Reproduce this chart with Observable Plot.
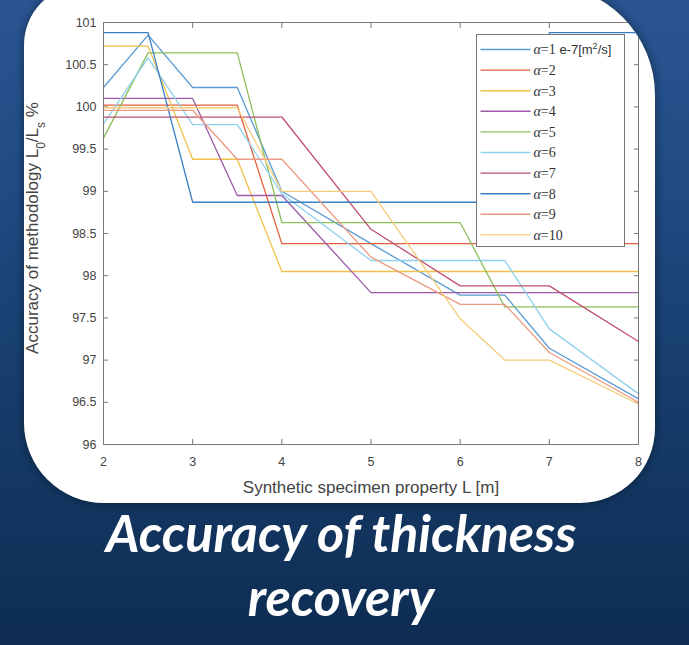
<!DOCTYPE html>
<html>
<head>
<meta charset="utf-8">
<script src="https://cdn.jsdelivr.net/npm/d3@7"></script>
<script src="https://cdn.jsdelivr.net/npm/@observablehq/plot@0.6"></script>
<style>
  html, body { margin: 0; padding: 0; }
  #page {
    position: relative; width: 689px; height: 645px; overflow: hidden;
    background: linear-gradient(180deg, #2a5592 0%, #1f4a82 30%, #153b68 65%, #0e2c52 100%);
  }
  #card {
    position: absolute; left: 24px; top: -15px; width: 631px; height: 518px;
    background: #ffffff; overflow: hidden;
    border-radius: 60px 110px 75px 80px;
    box-shadow: 0 0 10px rgba(0, 0, 0, 0.45);
  }
  #chart { position: absolute; left: -24px; top: 15px; width: 689px; height: 500px; }
  #chart svg { max-width: none !important; }
  #title {
    position: absolute; left: 0; top: 500px; width: 682px; text-align: center;
    font-family: Lato, "Open Sans", sans-serif; font-weight: 700; font-style: italic;
    font-size: 52px; line-height: 64px; color: #ffffff;
  }
</style>
</head>
<body>
<div id="page">
  <div id="card"><div id="chart"></div></div>
  <div id="title">Accuracy of thickness<br>recovery</div>
</div>
<script>
// Specimen property L [m] at which each accuracy curve was sampled
const lengths = [2, 2.5, 3, 3.5, 4, 5, 6, 6.5, 7, 8];

// Accuracy of methodology L0/Ls (%) for each diffusivity α
const alpha1  = [100.23, 100.85, 100.23, 100.23, 99.00, 98.38, 97.77, 97.77, 97.14, 96.54];
const alpha2  = [100.02, 100.02, 100.02, 100.02, 98.38, 98.38, 98.38, 98.38, 98.38, 98.38];
const alpha3  = [100.72, 100.72, 99.38, 99.38, 98.05, 98.05, 98.05, 98.05, 98.05, 98.05];
const alpha4  = [100.10, 100.10, 100.10, 98.95, 98.95, 97.80, 97.80, 97.80, 97.80, 97.80];
const alpha5  = [99.63, 100.64, 100.64, 100.64, 98.63, 98.63, 98.63, 97.63, 97.63, 97.63];
const alpha6  = [99.80, 100.58, 99.79, 99.79, 98.97, 98.18, 98.18, 98.18, 97.37, 96.60];
const alpha7  = [99.88, 99.88, 99.88, 99.88, 99.88, 98.55, 97.88, 97.88, 97.88, 97.22];
const alpha8  = [100.88, 100.88, 98.87, 98.87, 98.87, 98.87, 98.87, 98.87, 100.88, 100.88];
const alpha9  = [99.96, 99.96, 99.96, 99.38, 99.38, 98.22, 97.66, 97.66, 97.09, 96.50];
const alpha10 = [99.99, 99.99, 99.99, 99.99, 99.00, 99.00, 97.49, 97.00, 97.00, 96.48];

const seriesNames = ["α=1", "α=2", "α=3", "α=4", "α=5", "α=6", "α=7", "α=8", "α=9", "α=10"];
const seriesColors = ["#5b9bd5", "#e0603a", "#f0c048", "#9c5aa8", "#8cbf5a",
                      "#8ed0ee", "#c0506e", "#3a7fc4", "#ec9a82", "#f6cc7a"];

const xTicks = [2, 3, 4, 5, 6, 7, 8];
const yTicks = [96, 96.5, 97, 97.5, 98, 98.5, 99, 99.5, 100, 100.5, 101];

const xLabel = "Synthetic specimen property L [m]";

const allSeries = [alpha1, alpha2, alpha3, alpha4, alpha5, alpha6, alpha7, alpha8, alpha9, alpha10];
const rows = allSeries.flatMap((vals, i) =>
  vals.map((v, j) => ({L: lengths[j], acc: v, name: seriesNames[i]})));

const plot = Plot.plot({
  width: 689,
  height: 500,
  marginLeft: 103,
  marginRight: 51,
  marginTop: 22,
  marginBottom: 56,
  style: {background: "transparent", fontFamily: "'Liberation Sans', Arial, sans-serif",
          fontSize: "12.5px", color: "#444", maxWidth: "none"},
  x: {domain: [2, 8]},
  y: {domain: [96, 101]},
  color: {domain: seriesNames, range: seriesColors},
  marks: [
    Plot.axisX(xTicks, {anchor: "bottom", tickSize: -5, tickPadding: 18, label: null,
                        tickFormat: d => String(d), stroke: "#777"}),
    Plot.axisX(xTicks, {anchor: "top", tickSize: -5, label: null, tickFormat: () => "", stroke: "#777"}),
    Plot.axisY(yTicks, {anchor: "left", tickSize: -5, tickPadding: 12, label: null,
                        tickFormat: d => String(d), stroke: "#777"}),
    Plot.axisY(yTicks, {anchor: "right", tickSize: -5, label: null, tickFormat: () => "", stroke: "#777"}),
    Plot.line(rows, {x: "L", y: "acc", z: "name", stroke: "name", strokeWidth: 1.3}),
    Plot.frame({stroke: "#777"})
  ]
});

const svg = d3.select(plot);
const color = plot.scale("color");

// x-axis title
svg.append("text")
  .attr("x", 371).attr("y", 493)
  .attr("text-anchor", "middle")
  .attr("font-size", 17).attr("fill", "#444")
  .text(xLabel);

// y-axis title with subscripts
const yl = svg.append("text")
  .attr("transform", "translate(38,228) rotate(-90)")
  .attr("text-anchor", "middle")
  .attr("font-size", 17).attr("fill", "#444");
yl.append("tspan").text("Accuracy of methodology L");
yl.append("tspan").attr("baseline-shift", "sub").attr("font-size", 12).text("0");
yl.append("tspan").text("/L");
yl.append("tspan").attr("baseline-shift", "sub").attr("font-size", 12).text("s");
yl.append("tspan").text(" %");

// legend box
const lg = svg.append("g").attr("transform", "translate(476.5,34.5)");
lg.append("rect").attr("width", 148).attr("height", 212)
  .attr("fill", "#fff").attr("stroke", "#777").attr("stroke-width", 1);
seriesNames.forEach((name, i) => {
  const y = 15 + i * 20.6;
  lg.append("line").attr("x1", 4).attr("x2", 54).attr("y1", y).attr("y2", y)
    .attr("stroke", color.apply(name)).attr("stroke-width", 1.4);
  const t = lg.append("text").attr("x", 57).attr("y", y).attr("dy", "0.35em")
    .attr("text-anchor", "start")
    .attr("font-size", 14).attr("fill", "#333");
  const [sym, val] = name.split("=");
  t.append("tspan").attr("font-family", "'Liberation Serif', serif").attr("font-style", "italic").text(sym);
  t.append("tspan").attr("font-family", "'Liberation Serif', serif").text("=" + val);
  if (i === 0) {
    t.append("tspan").attr("font-size", 13).text(" e-7[m");
    t.append("tspan").attr("font-size", 9).attr("baseline-shift", "super").text("2");
    t.append("tspan").attr("font-size", 13).text("/s]");
  }
});

document.getElementById("chart").appendChild(plot);
</script>
</body>
</html>
